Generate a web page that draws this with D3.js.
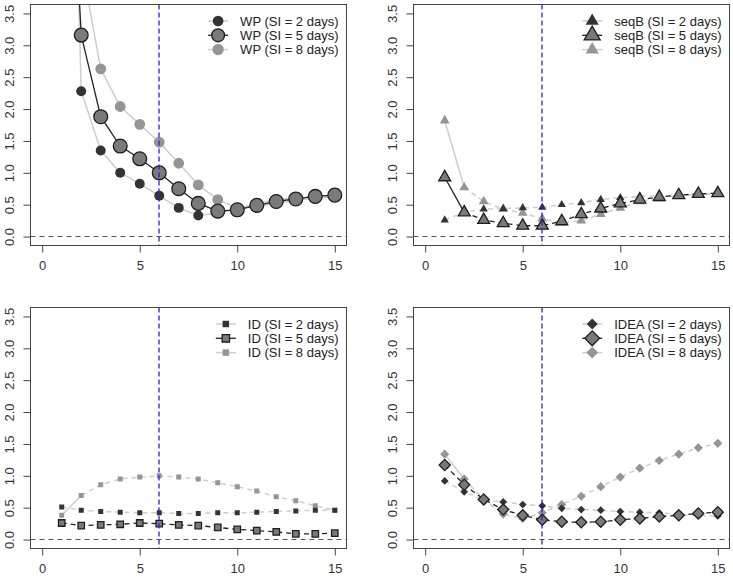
<!DOCTYPE html>
<html><head><meta charset="utf-8">
<script src="https://cdn.jsdelivr.net/npm/d3@7"></script>
<style>body{margin:0;background:#fff}svg{display:block}text{font-family:"Liberation Sans",Arial,sans-serif}</style>
</head><body><svg id="c" width="733" height="579"></svg>
<script>
const xs = [1,2,3,4,5,6,7,8,9,10,11,12,13,14,15];
const xTicks = [0,5,10,15];
const yTicks = [0,0.5,1,1.5,2,2.5,3,3.5];
const siLabels = ["2","5","8"];
const methods = ["WP","seqB","ID","IDEA"];
const cutoffDay = 6;

const wpSI2 = [14,2.28,1.35,1.00,0.83,0.64,0.45,0.33,0.37,0.44,0.52,0.58,0.60,0.63,0.65];
const wpSI5 = [9,3.16,1.88,1.42,1.22,1.00,0.75,0.52,0.40,0.42,0.49,0.55,0.59,0.63,0.65];
const wpSI8 = [12,4.3,2.63,2.04,1.76,1.48,1.15,0.81,0.58,0.45,0.47,0.52,0.57,0.60,0.63];

const seqbSI2 = [0.26,0.38,0.43,0.44,0.45,0.46,0.50,0.53,0.58,0.61,0.63,0.64,0.65,0.66,0.67];
const seqbSI5 = [0.93,0.38,0.26,0.21,0.17,0.17,0.24,0.35,0.44,0.52,0.58,0.62,0.65,0.67,0.68];
const seqbSI8 = [1.82,0.77,0.55,0.43,0.37,0.28,0.22,0.25,0.35,0.45,0.55,0.60,0.64,0.66,0.67];

const idSI2 = [0.51,0.46,0.44,0.43,0.42,0.42,0.41,0.41,0.42,0.42,0.43,0.44,0.45,0.46,0.46];
const idSI5 = [0.26,0.22,0.23,0.24,0.26,0.25,0.23,0.22,0.19,0.16,0.14,0.12,0.09,0.09,0.10];
const idSI8 = [0.38,0.69,0.86,0.95,0.98,1.00,0.98,0.95,0.89,0.83,0.76,0.67,0.61,0.53,0.46];

const ideaSI2 = [0.92,0.75,0.62,0.59,0.55,0.53,0.49,0.47,0.46,0.44,0.43,0.42,0.39,0.38,0.37];
const ideaSI5 = [1.17,0.86,0.63,0.47,0.38,0.31,0.28,0.27,0.28,0.31,0.33,0.36,0.38,0.41,0.43];
const ideaSI8 = [1.34,0.95,0.63,0.40,0.33,0.42,0.55,0.68,0.83,0.98,1.12,1.24,1.34,1.44,1.51];

const svg = d3.select("#c");

const panels = [
  {name:methods[0], data:[wpSI2,wpSI5,wpSI8], box:[30.5,4.5,346.5,245.5], shape:"circle", dashed:false,
   sizes:[78,150,92], legSizes:[90,130,100]},
  {name:methods[1], data:[seqbSI2,seqbSI5,seqbSI8], box:[413.5,4.5,729.5,245.5], shape:"triangle", dashed:true,
   sizes:[30,62,42], legSizes:[75,110,75], solidFirst:[false,true,true]},
  {name:methods[2], data:[idSI2,idSI5,idSI8], box:[30.5,307.5,346.5,548.5], shape:"square", dashed:true,
   sizes:[25,42,25], legSizes:[42,55,42], solidFirst:[false,false,true]},
  {name:methods[3], data:[ideaSI2,ideaSI5,ideaSI8], box:[413.5,307.5,729.5,548.5], shape:"diamond", dashed:true,
   sizes:[30,62,42], legSizes:[60,110,70], solidFirst:[false,false,true]}
];

const markFill = ["#333333","#7a7a7a","#959595"];
const markStroke = [null,"#1e1e1e",null];
const lineColor = ["#cdcdcd","#222222","#cdcdcd"];
const lineWidth = [1.5,1.3,1.5];
const crisp = v => Math.round(v - 0.5) + 0.5;

function sym(shape, size){
  if(shape==="circle") return d3.symbol(d3.symbolCircle, size)();
  if(shape==="triangle") return d3.symbol(d3.symbolTriangle, size)();
  return d3.symbol(d3.symbolSquare, size)();
}

panels.forEach((p,pi)=>{
  const [x0,y0,x1,y1] = p.box;
  const x = d3.scaleLinear().domain([-0.6,15.6]).range([x0,x1]);
  const y = d3.scaleLinear().domain([-0.14,3.64]).range([y1,y0]);
  const g = svg.append("g");
  const clipId = "clip"+pi;
  svg.append("clipPath").attr("id",clipId).append("rect")
    .attr("x",x0).attr("y",y0).attr("width",x1-x0).attr("height",y1-y0);

  const ax = g.append("g").attr("transform",`translate(0,${y1})`)
    .call(d3.axisBottom(x).tickValues(xTicks).tickSize(7).tickPadding(8).tickFormat(d3.format("d")));
  const ay = g.append("g").attr("transform",`translate(${x0},0)`)
    .call(d3.axisLeft(y).tickValues(yTicks).tickSize(7).tickPadding(0).tickFormat(d3.format(".1f")));
  [ax,ay].forEach(a=>{
    a.select(".domain").remove();
    a.selectAll("line").attr("stroke","#444");
    a.selectAll("text").attr("fill","#333").style("font-size","13px");
  });
  ay.selectAll("text").attr("transform", `translate(-21,0) rotate(-90)`)
    .attr("x",0).attr("y",0).attr("dy","0.35em").attr("text-anchor","middle");

  const pl = g.append("g").attr("clip-path",`url(#${clipId})`);
  pl.append("line").attr("x1",x0).attr("x2",x1).attr("y1",crisp(y(0))).attr("y2",crisp(y(0)))
    .attr("stroke","#555").attr("stroke-width",1.1).attr("stroke-dasharray","5,4");

  const line = d3.line().x((d,i)=>x(xs[i])).y(d=>y(d));
  const order = [2,0,1];
  order.forEach(k=>{
    const vals = p.data[k];
    const dash = p.dashed ? "5,4" : null;
    if(p.dashed && p.solidFirst && p.solidFirst[k]){
      pl.append("path").attr("d", d3.line().x((d,i)=>x(xs[i])).y(d=>y(d))(vals.slice(0,2)))
        .attr("fill","none").attr("stroke",lineColor[k]).attr("stroke-width",lineWidth[k]);
      pl.append("path").attr("d", d3.line().x((d,i)=>x(xs[i+1])).y(d=>y(d))(vals.slice(1)))
        .attr("fill","none").attr("stroke",lineColor[k]).attr("stroke-width",lineWidth[k]).attr("stroke-dasharray",dash);
    } else {
      pl.append("path").attr("d", line(vals)).attr("fill","none")
        .attr("stroke",lineColor[k]).attr("stroke-width",lineWidth[k]).attr("stroke-dasharray",dash);
    }
    pl.selectAll(null).data(vals).enter().append("path")
      .attr("d", sym(p.shape,p.sizes[k]))
      .attr("transform",(d,i)=>`translate(${x(xs[i])},${y(d)})${p.shape==="diamond"?" rotate(45)":""}`)
      .attr("fill",markFill[k])
      .attr("stroke",markStroke[k]||"none").attr("stroke-width",markStroke[k]?1.3:0);
  });

  const cx = Math.round(x(cutoffDay));
  g.append("line").attr("x1",cx).attr("x2",cx).attr("y1",y0).attr("y2",y1)
    .attr("stroke","#1f1ff0").attr("stroke-width",1.3).attr("stroke-dasharray","5,3");

  g.append("rect").attr("x",x0).attr("y",y0).attr("width",x1-x0).attr("height",y1-y0)
    .attr("fill","none").attr("stroke","#444").attr("stroke-width",1);

  const lg = g.append("g");
  const texts = siLabels.map(s=>`${p.name} (SI = ${s} days)`);
  const tmp = lg.selectAll("text.t").data(texts).enter().append("text").attr("class","t")
    .style("font-size","13px").attr("fill","#222").text(d=>d);
  let maxW = 0; tmp.each(function(){ maxW = Math.max(maxW,this.getComputedTextLength()); });
  const tx = x1 - 8 - maxW;
  const mx = tx - 22;
  tmp.attr("x",tx).attr("y",(d,i)=>y0+16.5+i*14.3).attr("dy","0.35em");
  [0,1,2].forEach(k=>{
    const yy = y0+16.5+k*14.3;
    lg.append("line").attr("x1",mx-10).attr("x2",mx+10).attr("y1",yy).attr("y2",yy)
      .attr("stroke",lineColor[k]).attr("stroke-width",lineWidth[k]);
    lg.append("path").attr("d",sym(p.shape,p.legSizes[k]))
      .attr("transform",`translate(${mx},${yy})${p.shape==="diamond"?" rotate(45)":""}`)
      .attr("fill",markFill[k]).attr("stroke",markStroke[k]||"none").attr("stroke-width",markStroke[k]?1.3:0);
  });
});
</script></body></html>
